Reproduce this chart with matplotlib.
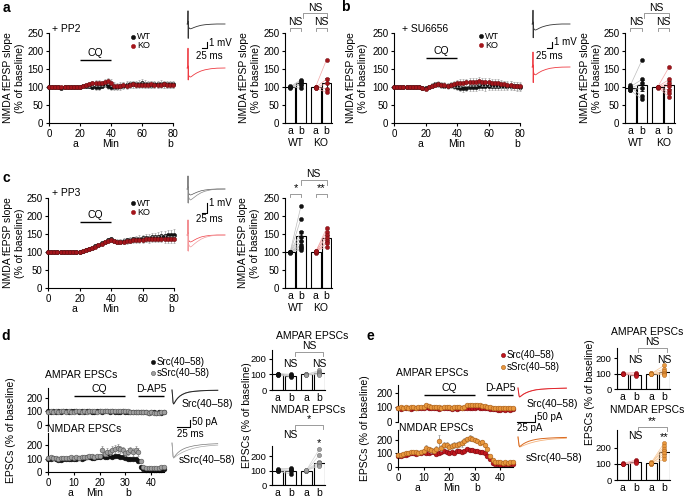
import matplotlib
matplotlib.use('Agg')
import matplotlib.pyplot as plt
import matplotlib.transforms as mtransforms

# ======================= DATA =======================
t_ac = list(range(0, 81, 2))           # minutes, panels a-c
t_de = list(range(0, 46))              # minutes, panels d-e

a_wt = [100, 99, 101, 100, 98, 100, 101, 99, 100, 100, 99,
        102, 104, 103, 101, 99, 100, 104, 107, 103, 100,
        101, 100, 102, 104, 106, 108, 108, 107, 109, 110,
        108, 107, 106, 107, 108, 109, 108, 107, 108, 107]
a_wt_err = [3, 3, 3, 3, 3, 3, 3, 3, 3, 3, 3,
            5, 6, 6, 7, 7, 7, 8, 8, 8, 8,
            9, 9, 9, 10, 10, 10, 10, 10, 10, 11,
            11, 11, 10, 10, 10, 10, 10, 10, 10, 10]
a_ko = [100, 101, 99, 100, 101, 100, 99, 100, 101, 100, 99,
        103, 106, 108, 110, 111, 112, 110, 113, 117, 112,
        104, 103, 104, 105, 104, 106, 107, 106, 105, 106,
        105, 106, 107, 106, 105, 106, 107, 106, 105, 106]
a_ko_err = [3, 3, 3, 3, 3, 3, 3, 3, 3, 3, 3,
            5, 6, 7, 7, 8, 8, 8, 9, 9, 9,
            9, 9, 9, 9, 9, 9, 9, 9, 9, 9,
            9, 9, 9, 9, 9, 9, 9, 9, 9, 9]

b_wt = [100, 101, 100, 99, 100, 101, 100, 101, 100, 98, 97,
        101, 104, 107, 108, 106, 104, 103, 105, 104, 100,
        98, 97, 98, 99, 100, 101, 102, 103, 102, 103,
        104, 104, 103, 104, 104, 103, 104, 103, 102, 100]
b_wt_err = [3, 3, 3, 3, 3, 3, 3, 3, 3, 3, 3,
            5, 6, 7, 8, 8, 8, 8, 9, 9, 9,
            10, 10, 10, 10, 11, 11, 11, 11, 12, 12,
            12, 12, 12, 12, 12, 12, 12, 12, 12, 12]
b_ko = [100, 101, 100, 99, 101, 100, 101, 100, 99, 97, 95,
        100, 104, 106, 107, 106, 105, 104, 106, 108, 110,
        111, 112, 113, 114, 115, 115, 116, 115, 114, 113,
        112, 111, 110, 108, 107, 106, 105, 104, 103, 102]
b_ko_err = [3, 3, 3, 3, 3, 3, 3, 3, 3, 3, 3,
            5, 6, 7, 8, 8, 8, 8, 9, 9, 9,
            10, 10, 10, 11, 11, 11, 11, 11, 11, 11,
            11, 11, 11, 11, 11, 11, 11, 11, 11, 11]

c_wt = [100, 99, 100, 101, 100, 99, 101, 100, 99, 100, 100,
        103, 106, 108, 112, 116, 120, 124, 128, 132, 135,
        130, 128, 129, 131, 132, 133, 135, 136, 137, 138,
        139, 140, 141, 142, 143, 144, 145, 146, 147, 148]
c_wt_err = [3, 3, 3, 3, 3, 3, 3, 3, 3, 3, 3,
            4, 4, 4, 5, 5, 5, 5, 6, 6, 6,
            6, 7, 7, 7, 8, 8, 8, 9, 9, 10,
            10, 11, 11, 12, 12, 13, 13, 14, 14, 15]
c_ko = [99, 100, 99, 100, 101, 100, 99, 101, 100, 99, 100,
        103, 105, 108, 111, 115, 119, 123, 127, 131, 134,
        130, 127, 128, 129, 130, 131, 132, 133, 133, 134,
        135, 135, 136, 136, 136, 137, 136, 135, 135, 135]
c_ko_err = [3, 3, 3, 3, 3, 3, 3, 3, 3, 3, 3,
            4, 4, 4, 5, 5, 5, 5, 6, 6, 6,
            6, 6, 7, 7, 7, 7, 8, 8, 8, 8,
            8, 9, 9, 9, 9, 9, 10, 10, 10, 10]

d_amp_src = [100, 98, 102, 99, 101, 97, 100, 103, 99, 101,
             100, 102, 98, 100, 99, 101, 100, 97, 99, 100,
             102, 98, 100, 101, 99, 100, 98, 97, 99, 100,
             96, 98, 97, 95, 96, 95, 97, 94, 93, 92,
             94, 93, 92, 93, 92, 94]
d_amp_ssrc = [98, 100, 97, 101, 99, 100, 102, 98, 100, 97,
              99, 101, 100, 98, 100, 99, 102, 100, 101, 98,
              100, 103, 104, 102, 105, 106, 104, 103, 105, 104,
              102, 100, 98, 99, 97, 96, 95, 94, 93, 92,
              93, 91, 90, 92, 93, 95]
d_nm_src = [100, 98, 102, 95, 88, 92, 95, 93, 97, 95,
            100, 98, 102, 100, 105, 108, 110, 106, 104, 108,
            112, 115, 110, 108, 118, 112, 115, 120, 110, 108,
            104, 100, 96, 95, 100, 85, 40, 22, 15, 12,
            18, 15, 14, 12, 15, 20]
d_nm_ssrc = [105, 108, 103, 106, 100, 104, 102, 106, 104, 108,
             103, 110, 106, 109, 112, 110, 115, 118, 112, 116,
             120, 160, 135, 150, 148, 165, 172, 175, 168, 160,
             140, 150, 160, 145, 165, 150, 80, 40, 30, 28,
             32, 30, 27, 30, 35, 38]
d_nm_ssrc_err = [8, 8, 8, 8, 8, 8, 8, 8, 8, 8,
                 8, 10, 10, 10, 10, 10, 12, 12, 12, 12,
                 15, 30, 20, 28, 25, 28, 30, 30, 25, 22,
                 20, 25, 22, 30, 25, 28, 15, 8, 6, 6,
                 6, 6, 6, 6, 6, 6]

e_amp_src = [95, 92, 96, 94, 98, 93, 95, 97, 96, 94,
             95, 100, 96, 94, 98, 95, 93, 96, 94, 97,
             95, 93, 96, 92, 94, 95, 97, 96, 95, 98,
             96, 100, 97, 95, 96, 95, 92, 88, 87, 85,
             86, 88, 85, 87, 86, 88]
e_amp_ssrc = [98, 100, 96, 102, 99, 104, 101, 98, 105, 100,
              102, 115, 108, 104, 100, 106, 103, 98, 101, 100,
              104, 99, 103, 100, 102, 98, 105, 115, 118, 120,
              116, 118, 115, 110, 108, 105, 100, 96, 95, 97,
              94, 96, 95, 97, 96, 98]
e_nm_src = [80, 85, 90, 88, 95, 100, 105, 98, 100, 103,
            108, 105, 100, 110, 112, 95, 105, 108, 118, 110,
            100, 112, 105, 115, 118, 110, 122, 130, 128, 125,
            120, 115, 110, 112, 100, 85, 60, 30, 25, 20,
            18, 22, 20, 19, 21, 20]
e_nm_ssrc = [90, 88, 95, 100, 105, 110, 108, 112, 105, 110,
             115, 140, 130, 125, 120, 135, 190, 140, 160, 165,
             150, 155, 160, 165, 170, 175, 190, 205, 215, 210,
             200, 190, 180, 185, 165, 130, 80, 50, 40, 35,
             38, 30, 35, 33, 36, 34]
e_nm_ssrc_err = [10, 10, 10, 10, 10, 12, 12, 12, 12, 12,
                 15, 20, 18, 18, 18, 20, 45, 20, 22, 22,
                 20, 20, 22, 22, 22, 25, 25, 20, 20, 18,
                 15, 15, 15, 15, 15, 12, 10, 8, 8, 6,
                 6, 6, 6, 6, 6, 6]

# bar charts: means, and individual pre(a)/post(b) values
bar_ticklabels = ['a', 'b', 'a', 'b']
a_bar_means = [100, 110, 100, 110]
a_bar_sem = [1, 5, 1, 15]
a_wt_pre = [101, 99, 98, 102, 100]
a_wt_post = [120, 116, 110, 96, 106]
a_ko_pre = [101, 99, 98, 100, 97]
a_ko_post = [176, 122, 110, 95, 85]

b_bar_means = [97, 105, 100, 105]
b_bar_sem = [2, 15, 1, 11]
b_wt_pre = [105, 101, 97, 93, 99, 91]
b_wt_post = [175, 121, 110, 96, 75, 66]
b_ko_pre = [100, 101, 99, 100, 98, 101, 100]
b_ko_post = [156, 121, 112, 103, 92, 82, 72]

c_bar_means = [100, 145, 100, 140]
c_bar_sem = [1, 14, 1, 8]
c_wt_pre = [100, 99, 101, 100, 98, 100, 101, 99, 100]
c_wt_post = [228, 193, 155, 142, 130, 120, 115, 110, 106]
c_ko_pre = [100, 102, 98, 101, 99, 100, 103]
c_ko_post = [166, 156, 146, 140, 130, 124, 114]

d_amp_means = [100, 93, 100, 108]
d_amp_sem = [2, 3, 1, 5]
d_amp_src_pre = [106, 101, 97, 103, 95]
d_amp_src_post = [101, 96, 90, 93, 87]
d_amp_ssrc_pre = [100, 103, 97, 101, 99]
d_amp_ssrc_post = [126, 118, 110, 104, 98]
d_nm_means = [100, 100, 100, 152]
d_nm_sem = [3, 6, 1, 16]
d_nm_src_pre = [106, 101, 95, 111, 98]
d_nm_src_post = [112, 101, 76, 116, 95]
d_nm_ssrc_pre = [100, 98, 102, 100, 99, 101]
d_nm_ssrc_post = [245, 205, 162, 150, 140, 130]

e_amp_means = [100, 93, 100, 108]
e_amp_sem = [2, 4, 1, 7]
e_amp_src_pre = [103, 99, 100, 98]
e_amp_src_post = [106, 96, 90, 84]
e_amp_ssrc_pre = [100, 104, 97, 102, 99, 98]
e_amp_ssrc_post = [152, 128, 115, 105, 98, 92]
e_nm_means = [100, 115, 105, 175]
e_nm_sem = [2, 5, 3, 13]
e_nm_src_pre = [103, 99, 100, 98]
e_nm_src_post = [125, 118, 110, 105]
e_nm_ssrc_pre = [108, 104, 102, 110, 100, 106, 103]
e_nm_ssrc_post = [232, 212, 196, 182, 168, 150, 128]

# example traces (fEPSP in mV vs ms; EPSC in pA vs ms)
fepsp_t = [0, 4, 5, 6, 7, 8, 12, 18, 25, 35, 50, 70, 90, 120, 150, 190]
a_tr_wt = [0, 0, 2.2, -2.4, 0.4, -0.5, -0.75, -0.8, -0.72, -0.58, -0.4, -0.22, -0.12, -0.04, 0, 0]
a_tr_ko = [0, 0, 3.3, -2.0, 0.3, -1.2, -1.45, -1.5, -1.35, -1.1, -0.8, -0.5, -0.3, -0.12, -0.03, 0]
b_tr_wt = [0, 0, 2.3, -2.3, 0.3, -0.7, -0.95, -1.0, -0.9, -0.72, -0.5, -0.3, -0.16, -0.05, 0, 0]
b_tr_ko = [0, 0, 2.5, -2.6, 0.3, -0.9, -1.25, -1.3, -1.15, -0.92, -0.65, -0.4, -0.22, -0.08, -0.02, 0]
c_tr_wt_a = [0, 0, 1.3, -1.4, 0.2, -0.4, -0.55, -0.6, -0.55, -0.45, -0.32, -0.18, -0.1, -0.03, 0, 0]
c_tr_wt_b = [0, 0, 1.3, -1.4, 0.1, -0.8, -1.0, -1.1, -1.0, -0.85, -0.62, -0.38, -0.22, -0.08, -0.02, 0]
c_tr_ko_a = [0, 0, 1.5, -1.6, 0.2, -0.5, -0.65, -0.7, -0.64, -0.52, -0.36, -0.2, -0.11, -0.03, 0, 0]
c_tr_ko_b = [0, 0, 1.5, -1.6, 0.1, -0.9, -1.1, -1.2, -1.1, -0.92, -0.68, -0.42, -0.24, -0.09, -0.02, 0]

epsc_t = [0, 1, 2, 3, 4, 6, 8, 11, 15, 20, 26, 33, 42, 55, 70, 88]
d_tr_src_a = [0, -40, -90, -100, -96, -84, -72, -58, -44, -32, -22, -15, -10, -6, -3, -2]
d_tr_src_b = [0, -38, -88, -98, -95, -83, -70, -57, -43, -31, -21, -14, -9, -5, -3, -2]
d_tr_ssrc_a = [0, -45, -95, -105, -102, -92, -82, -70, -58, -46, -36, -28, -20, -13, -8, -5]
d_tr_ssrc_b = [0, -45, -95, -108, -106, -100, -94, -86, -77, -67, -57, -47, -37, -27, -20, -15]
e_tr_src_a = [0, -30, -58, -64, -62, -56, -50, -42, -34, -26, -19, -13, -9, -5, -3, -1]
e_tr_src_b = [0, -30, -57, -63, -61, -55, -49, -41, -33, -25, -18, -12, -8, -5, -3, -1]
e_tr_ssrc_a = [0, -32, -62, -68, -66, -60, -54, -46, -38, -30, -23, -17, -12, -8, -5, -3]
e_tr_ssrc_b = [0, -32, -63, -72, -71, -68, -64, -59, -53, -46, -39, -32, -25, -18, -13, -9]

# ======================= STYLE =======================
plt.rcParams['font.family'] = ['Liberation Sans', 'DejaVu Sans']
plt.rcParams['font.size'] = 7.5
plt.rcParams['axes.linewidth'] = 0.8
for k in ('xtick', 'ytick'):
    plt.rcParams[k + '.major.width'] = 0.8
    plt.rcParams[k + '.major.size'] = 2.5
    plt.rcParams[k + '.major.pad'] = 1.5
    plt.rcParams[k + '.labelsize'] = 7

BLACK = '#111111'
KO_RED = '#a3151b'
GRAY_MK = '#a0a0a0'
GRAY_EDGE = '#555555'
SRC_RED = '#c0161e'
SRC_RED_EDGE = '#7d0a0f'
ORANGE = '#e8983e'
ORANGE_EDGE = '#a85d18'
ERR_GRAY = '#a8a8a8'

W, H = 685, 498
fig = plt.figure(figsize=(W / 100, H / 100), dpi=100)


def px_ax(l, t, r, b):
    ax = fig.add_axes([l / W, 1 - b / H, (r - l) / W, (b - t) / H])
    ax.patch.set_alpha(0)
    for s in ('top', 'right'):
        ax.spines[s].set_visible(False)
    return ax


def below(ax, x, s, dy, **kw):
    tr = mtransforms.offset_copy(ax.get_xaxis_transform(), fig=fig, x=0, y=-dy, units='dots')
    ax.text(x, 0, s, transform=tr, ha='center', va='center', **kw)


def series(ax, t, y, err, fc, ec, ms, z, ecol=ERR_GRAY):
    if err is not None:
        ax.errorbar(t, y, yerr=err, fmt='none', ecolor=ecol, elinewidth=0.6,
                    capsize=1.0, capthick=0.5, zorder=z, clip_on=False)
    ax.plot(t, y, 'o', ms=ms, mfc=fc, mec=ec, mew=0.4, zorder=z + 0.5, clip_on=False)


def label_line(ax, x1, x2, y, text):
    ax.plot([x1, x2], [y, y], color='black', lw=1.0, clip_on=False, solid_capstyle='butt')
    ax.annotate(text, xy=((x1 + x2) / 2, y), xytext=(0, 1.5), textcoords='offset points',
                ha='center', va='bottom', fontsize=7.5, annotation_clip=False)


def bracket(ax, x1, x2, y, drop, text, fs=7.5):
    ax.plot([x1, x1, x2, x2], [y - drop, y, y, y - drop], color='#8a8a8a', lw=0.6, clip_on=False)
    ax.annotate(text, xy=((x1 + x2) / 2, y), xytext=(0, 0.5), textcoords='offset points',
                ha='center', va='bottom', fontsize=fs, annotation_clip=False)


def bars(ax, pos, means, sems, groups, width):
    ax.bar(pos, means, width=width, color='white', edgecolor='black', linewidth=0.8, zorder=1)
    ax.errorbar(pos, means, yerr=sems, fmt='none', ecolor='black', elinewidth=0.6,
                capsize=1.5, capthick=0.6, zorder=1.5)
    for k, (pre, post, mc, me, lc) in enumerate(groups):
        xa, xb = pos[2 * k], pos[2 * k + 1]
        for p, q in zip(pre, post):
            ax.plot([xa, xb], [p, q], color=lc, lw=0.5, zorder=2)
        ax.plot([xa] * len(pre), pre, 'o', ms=3, mfc=mc, mec=me, mew=0.3, zorder=3, clip_on=False)
        ax.plot([xb] * len(post), post, 'o', ms=3, mfc=mc, mec=me, mew=0.3, zorder=3, clip_on=False)
    ax.set_xticks(pos)
    ax.set_xticklabels(bar_ticklabels, fontsize=7.5)
    ax.tick_params(axis='x', length=0, pad=2)


def trace_ax(l, t, r, b, x0, y0, pxx, pxy):
    ax = px_ax(l, t, r, b)
    ax.set_xlim((l - x0) / pxx, (r - x0) / pxx)
    ax.set_ylim((y0 - b) / pxy, (y0 - t) / pxy)
    ax.axis('off')
    return ax


# overlay axes in pixel coordinates for free text / legends
ov = fig.add_axes([0, 0, 1, 1])
ov.set_xlim(0, W)
ov.set_ylim(H, 0)
ov.axis('off')
ov.set_zorder(10)


def T(x, y, s, **kw):
    kw.setdefault('ha', 'center')
    kw.setdefault('va', 'center')
    ov.text(x, y, s, **kw)


# ======================= PANELS a-c =======================
pos_ac = [0, 1, 2.35, 3.35]
fe_ylabel = 'NMDA fEPSP slope\n(% of baseline)'

def fepsp_panel(l, t, r, b, wt, wt_e, ko, ko_e, cq_y):
    ax = px_ax(l, t, r, b)
    ax.set_xlim(0, 80)
    ax.set_ylim(0, 250)
    ax.set_xticks([0, 20, 40, 60, 80])
    ax.set_yticks([0, 50, 100, 150, 200, 250])
    series(ax, t_ac, wt, wt_e, BLACK, BLACK, 3.0, 2)
    series(ax, t_ac, ko, ko_e, KO_RED, '#6a0c10', 3.0, 4)
    label_line(ax, 20, 40, cq_y, 'CQ')
    below(ax, 17, 'a', 21)
    below(ax, 40, 'Min', 21)
    below(ax, 78, 'b', 21)
    return ax


def fepsp_bars(l, t, r, b, means, sems, wpre, wpost, kpre, kpost):
    ax = px_ax(l, t, r, b)
    bars(ax, pos_ac, means, sems,
         [(wpre, wpost, BLACK, BLACK, '#bdbdbd'),
          (kpre, kpost, KO_RED, '#6a0c10', '#f2a9a9')], 0.9)
    ax.set_xlim(-0.47, 3.85)
    ax.set_ylim(0, 250)
    ax.set_yticks([0, 50, 100, 150, 200, 250])
    below(ax, 0.5, 'WT', 20)
    below(ax, 2.85, 'KO', 20)
    return ax


def legend2(x, y1, y2, c1, c2, l1, l2, e1=None, e2=None, fs=6.5):
    ov.plot([x], [y1], 'o', ms=3, mfc=c1, mec=e1 or c1, mew=0.4)
    ov.plot([x], [y2], 'o', ms=3, mfc=c2, mec=e2 or c2, mew=0.4)
    T(x + 4, y1, l1, ha='left', fontsize=fs)
    T(x + 4, y2, l2, ha='left', fontsize=fs)


# ---- a ----
fepsp_panel(49, 33, 173, 123, a_wt, a_wt_err, a_ko, a_ko_err, 175)
axb = fepsp_bars(285, 33, 332, 123, a_bar_means, a_bar_sem, a_wt_pre, a_wt_post, a_ko_pre, a_ko_post)
bracket(axb, pos_ac[0], pos_ac[1], 264, 8, 'NS')
bracket(axb, pos_ac[2], pos_ac[3], 264, 8, 'NS')
bracket(axb, pos_ac[1] + 0.2, pos_ac[3], 305, 13, 'NS')
T(14, 78, fe_ylabel, rotation=90, linespacing=1.25)
T(250, 78, fe_ylabel, rotation=90, linespacing=1.25)
T(6, 8, 'a', fontsize=10, fontweight='bold')
T(52, 29, '+ PP2', ha='left')
legend2(133, 36.5, 45.5, BLACK, KO_RED, 'WT', 'KO')
tra = trace_ax(180, 3, 235, 88, 187, 24, 0.2, 6.0)
tra.plot(fepsp_t, a_tr_wt, color='#333333', lw=0.6)
tra.plot(fepsp_t, [v - 44 / 6.0 for v in a_tr_ko], color='#ee3b42', lw=0.6)
tra.plot([75, 100, 100], [-4.0, -4.0, -3.0], color='black', lw=0.8)
T(209, 43, '1 mV', ha='left', fontsize=7)
T(209, 56, '25 ms', fontsize=7)

# ---- b ----
fepsp_panel(394, 33, 520, 123, b_wt, b_wt_err, b_ko, b_ko_err, 180)
axb = fepsp_bars(625, 33, 675, 123, b_bar_means, b_bar_sem, b_wt_pre, b_wt_post, b_ko_pre, b_ko_post)
bracket(axb, pos_ac[0], pos_ac[1], 264, 8, 'NS')
bracket(axb, pos_ac[2], pos_ac[3], 264, 8, 'NS')
bracket(axb, pos_ac[1] + 0.2, pos_ac[3], 305, 13, 'NS')
T(357, 78, fe_ylabel, rotation=90, linespacing=1.25)
T(591, 78, fe_ylabel, rotation=90, linespacing=1.25)
T(345, 7, 'b', fontsize=10, fontweight='bold')
T(402, 29, '+ SU6656', ha='left')
legend2(481, 36, 45, BLACK, KO_RED, 'WT', 'KO')
trb = trace_ax(525, 3, 580, 88, 532, 24, 0.2, 6.0)
trb.plot(fepsp_t, b_tr_wt, color='#333333', lw=0.6)
trb.plot(fepsp_t, [v - 43 / 6.0 for v in b_tr_ko], color='#ee3b42', lw=0.6)
trb.plot([75, 100, 100], [-4.0, -4.0, -3.0], color='black', lw=0.8)
T(554, 42, '1 mV', ha='left', fontsize=7)
T(549, 56, '25 ms', fontsize=7)

# ---- c ----
fepsp_panel(48, 198, 174, 288, c_wt, c_wt_err, c_ko, c_ko_err, 183)
axb = fepsp_bars(285, 198, 332, 288, c_bar_means, c_bar_sem, c_wt_pre, c_wt_post, c_ko_pre, c_ko_post)
bracket(axb, pos_ac[0], pos_ac[1], 261, 8, '*', fs=8)
bracket(axb, pos_ac[2], pos_ac[3], 261, 8, '**', fs=8)
bracket(axb, pos_ac[1], pos_ac[3], 300, 13, 'NS')
T(14, 243, fe_ylabel, rotation=90, linespacing=1.25)
T(249, 243, fe_ylabel, rotation=90, linespacing=1.25)
T(6, 178, 'c', fontsize=10, fontweight='bold')
T(52, 193, '+ PP3', ha='left')
legend2(133, 203, 212, BLACK, KO_RED, 'WT', 'KO')
trc = trace_ax(180, 170, 235, 258, 187, 189, 0.2, 10.0)
trc.plot(fepsp_t, c_tr_wt_a, color='#555555', lw=0.5)
trc.plot(fepsp_t, c_tr_wt_b, color='#888888', lw=0.5)
trc.plot(fepsp_t, [v - 4.6 for v in c_tr_ko_a], color='#ee3b42', lw=0.5)
trc.plot(fepsp_t, [v - 4.6 for v in c_tr_ko_b], color='#f39a9d', lw=0.5)
trc.plot([75, 100, 100], [-2.4, -2.4, -1.4], color='black', lw=0.8)
T(209, 203, '1 mV', ha='left', fontsize=7)
T(209, 219, '25 ms', fontsize=7)

# ======================= PANELS d-e =======================
pos_de = [0, 1, 2.2, 3.2]


def epsc_panel(l, r, amp_tb, nm_tb, amp_ylim, nm_ylim, amp_src, amp_ssrc, nm_src, nm_ssrc,
               nm_ssrc_e, c_src, e_src, c_ssrc, e_ssrc, cq_y, ab):
    a1 = px_ax(l, amp_tb[0], r, amp_tb[1])
    a1.set_xlim(0, 45)
    a1.set_ylim(*amp_ylim)
    a1.set_yticks([0, 100, 200])
    a1.spines['bottom'].set_visible(False)
    a1.tick_params(axis='x', bottom=False, labelbottom=False)
    series(a1, t_de, amp_src, None, c_src, e_src, 3.4, 2)
    series(a1, t_de, amp_ssrc, None, c_ssrc, e_ssrc, 3.4, 4)
    label_line(a1, 10, 30, cq_y, 'CQ')
    label_line(a1, 35, 45, cq_y, 'D-AP5')
    a2 = px_ax(l, nm_tb[0], r, nm_tb[1])
    a2.set_xlim(0, 45)
    a2.set_ylim(*nm_ylim)
    a2.set_yticks([0, 100, 200])
    a2.set_xticks([0, 10, 20, 30, 40])
    series(a2, t_de, nm_src, None, c_src, e_src, 3.4, 2)
    series(a2, t_de, nm_ssrc, nm_ssrc_e, c_ssrc, e_ssrc, 3.4, 4, ecol='#9a9a9a')
    below(a2, ab[0], 'a', 21)
    below(a2, ab[1], 'Min', 21)
    below(a2, ab[2], 'b', 21)
    return a1, a2


def epsc_bars(l, r, tb, ylim, means, sems, spre, spost, sspre, sspost, c_src, e_src, l_src,
              c_ssrc, e_ssrc, l_ssrc):
    ax = px_ax(l, tb[0], r, tb[1])
    bars(ax, pos_de, means, sems,
         [(spre, spost, c_src, e_src, l_src), (sspre, sspost, c_ssrc, e_ssrc, l_ssrc)], 0.85)
    ax.set_xlim(-0.45, 3.65)
    ax.set_ylim(*ylim)
    ax.set_yticks([0, 100, 200])
    ax.tick_params(axis='y', labelsize=6.8)
    return ax


# ---- d ----
epsc_panel(48, 164, (388, 425), (433, 472), (0, 274), (0, 289),
           d_amp_src, d_amp_ssrc, d_nm_src, d_nm_ssrc, d_nm_ssrc_err,
           BLACK, BLACK, GRAY_MK, GRAY_EDGE, 215, (8.5, 18, 31))
T(6, 336, 'd', fontsize=10, fontweight='bold')
T(11, 430, 'EPSCs (% of baseline)', rotation=90)
T(81, 375, 'AMPAR EPSCs')
T(84, 429, 'NMDAR EPSCs')
legend2(153, 362, 373, BLACK, GRAY_MK, 'Src(40\u201358)', 'sSrc(40\u201358)', BLACK, GRAY_EDGE, fs=7)
trd = trace_ax(165, 380, 245, 470, 172, 390, 0.52, 0.14)
trd.plot(epsc_t, d_tr_src_b, color='#999999', lw=0.6)
trd.plot(epsc_t, d_tr_src_a, color='#222222', lw=0.7)
trd.plot(epsc_t, [v - 53 / 0.14 for v in d_tr_ssrc_a], color='#777777', lw=0.5)
trd.plot(epsc_t, [v - 53 / 0.14 for v in d_tr_ssrc_b], color='#aaaaaa', lw=0.5)
trd.plot([(177 - 172) / 0.52, (190 - 172) / 0.52, (190 - 172) / 0.52],
         [(390 - 427) / 0.14, (390 - 427) / 0.14, (390 - 420) / 0.14], color='black', lw=0.8)
T(207, 404, 'Src(40\u201358)')
T(207, 460, 'sSrc(40\u201358)')
T(192, 422, '50 pA', ha='left', fontsize=7)
T(177, 434, '25 ms', ha='left', fontsize=7)

ax = epsc_bars(272, 325, (350, 390), (0, 258), d_amp_means, d_amp_sem,
               d_amp_src_pre, d_amp_src_post, d_amp_ssrc_pre, d_amp_ssrc_post,
               BLACK, BLACK, '#c8c8c8', GRAY_MK, GRAY_EDGE, '#d0d0d0')
bracket(ax, pos_de[1] + 0.3, pos_de[3] + 0.3, 245, 26, 'NS')
ax.text(pos_de[1], 168, 'NS', ha='center', va='center')
ax.text(pos_de[3], 168, 'NS', ha='center', va='center')
ax = epsc_bars(272, 325, (446, 485), (0, 269), d_nm_means, d_nm_sem,
               d_nm_src_pre, d_nm_src_post, d_nm_ssrc_pre, d_nm_ssrc_post,
               BLACK, BLACK, '#c8c8c8', GRAY_MK, GRAY_EDGE, '#d0d0d0')
bracket(ax, pos_de[1] + 0.3, pos_de[3] + 0.3, 414, 26, '*', fs=8)
ax.text(pos_de[1], 345, 'NS', ha='center', va='center')
ax.text(pos_de[3], 290, '*', ha='center', va='center', fontsize=8)
T(247, 415, 'EPSCs (% of baseline)', rotation=90)
T(312, 336, 'AMPAR EPSCs')
T(308, 410, 'NMDAR EPSCs')

# ---- e ----
epsc_panel(398, 513, (385, 422), (430, 467), (0, 255), (0, 274),
           e_amp_src, e_amp_ssrc, e_nm_src, e_nm_ssrc, e_nm_ssrc_err,
           SRC_RED, SRC_RED_EDGE, ORANGE, ORANGE_EDGE, 186, (7.5, 21, 31))
T(370, 336, 'e', fontsize=10, fontweight='bold')
T(365, 428, 'EPSCs (% of baseline)', rotation=90)
T(432, 373, 'AMPAR EPSCs')
T(436, 428, 'NMDAR EPSCs')
legend2(503, 355, 367, SRC_RED, ORANGE, 'Src(40\u201358)', 'sSrc(40\u201358)', SRC_RED_EDGE, ORANGE_EDGE, fs=7)
tre = trace_ax(512, 375, 585, 470, 518, 388, 0.55, 0.14)
tre.plot(epsc_t, e_tr_src_b, color='#f38b8b', lw=0.6)
tre.plot(epsc_t, e_tr_src_a, color='#e0262c', lw=0.7)
tre.plot(epsc_t, [v - 49 / 0.14 for v in e_tr_ssrc_b], color='#f5b27a', lw=0.6)
tre.plot(epsc_t, [v - 49 / 0.14 for v in e_tr_ssrc_a], color='#d9691f', lw=0.7)
tre.plot([(517 - 518) / 0.55, (535 - 518) / 0.55, (535 - 518) / 0.55],
         [(388 - 422) / 0.14, (388 - 422) / 0.14, (388 - 415) / 0.14], color='black', lw=0.8)
T(552, 404, 'Src(40\u201358)')
T(554, 458, 'sSrc(40\u201358)')
T(537, 417, '50 pA', ha='left', fontsize=7)
T(517, 428, '25 pA', ha='left', fontsize=7)

ax = epsc_bars(617, 670, (348, 389), (0, 265), e_amp_means, e_amp_sem,
               e_amp_src_pre, e_amp_src_post, e_amp_ssrc_pre, e_amp_ssrc_post,
               SRC_RED, SRC_RED_EDGE, '#f4b0b0', ORANGE, ORANGE_EDGE, '#f7c99a')
bracket(ax, pos_de[1] + 0.2, pos_de[3] + 0.2, 265, 26, 'NS')
ax.text(pos_de[1], 187, 'NS', ha='center', va='center')
ax.text(pos_de[3], 187, 'NS', ha='center', va='center')
ax = epsc_bars(617, 670, (430, 480), (0, 312), e_nm_means, e_nm_sem,
               e_nm_src_pre, e_nm_src_post, e_nm_ssrc_pre, e_nm_ssrc_post,
               SRC_RED, SRC_RED_EDGE, '#f4b0b0', ORANGE, ORANGE_EDGE, '#f7c99a')
bracket(ax, pos_de[1] + 0.2, pos_de[3] + 0.2, 331, 26, '**', fs=8)
ax.text(pos_de[1], 275, 'NS', ha='center', va='center')
ax.text(pos_de[3], 269, '**', ha='center', va='center', fontsize=8)
T(590, 392, 'EPSCs (% of baseline)', rotation=90)
T(647, 332, 'AMPAR EPSCs')
T(647, 410, 'NMDAR EPSCs')

fig.savefig('out.png', dpi=100)
